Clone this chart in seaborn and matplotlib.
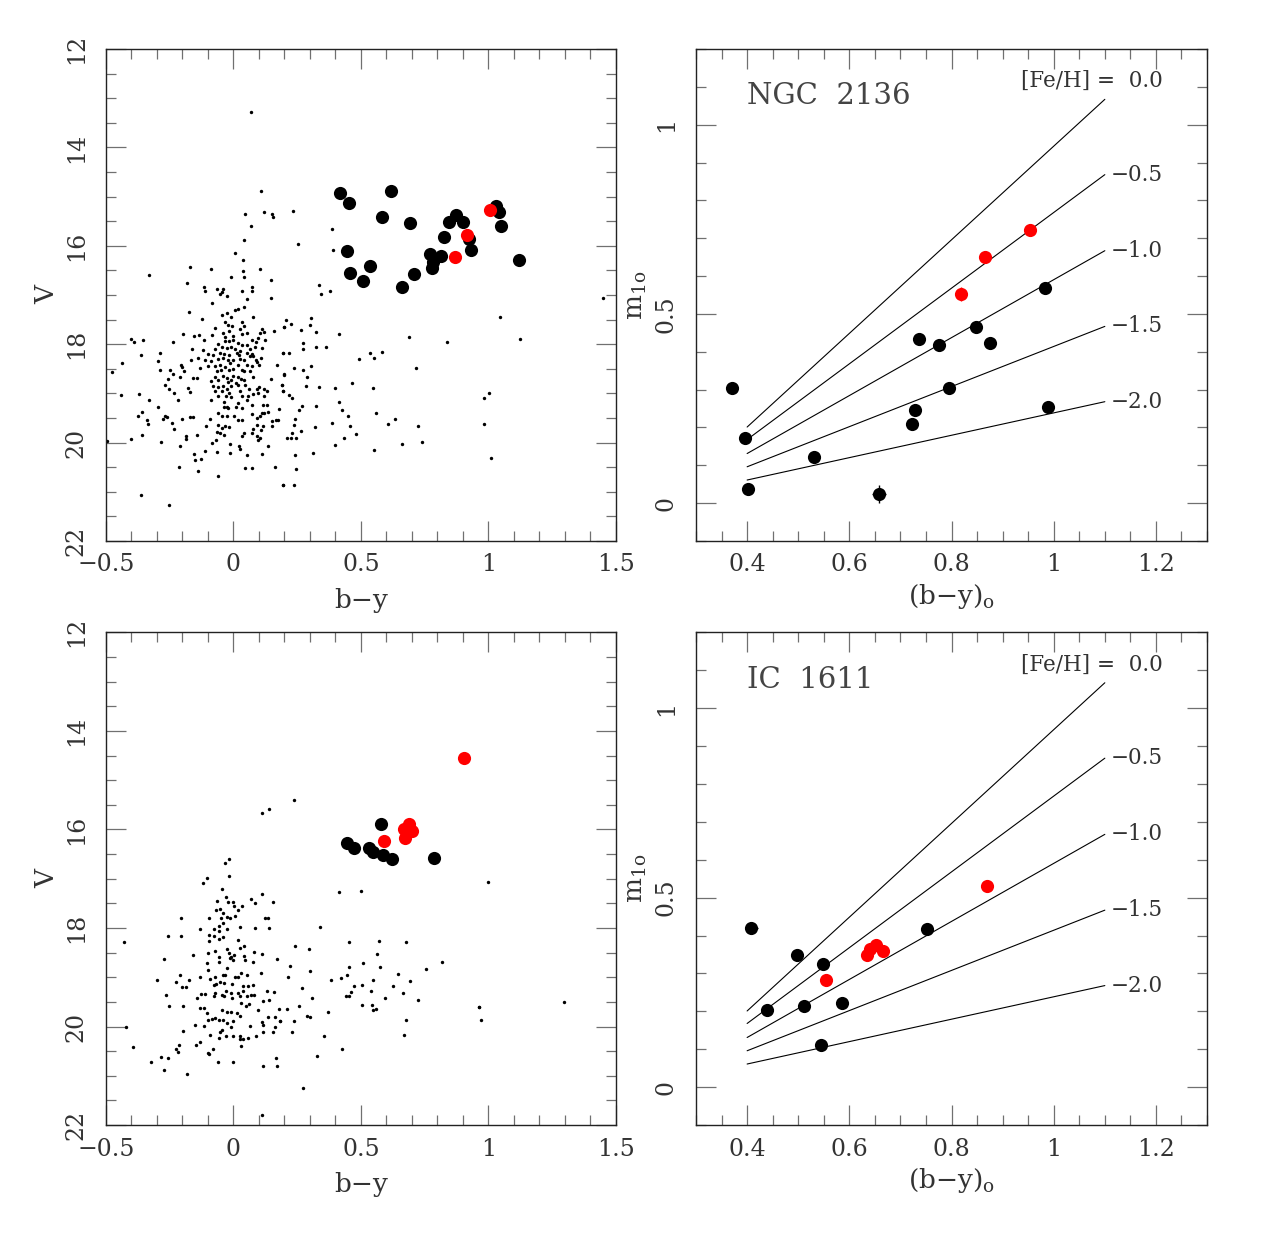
import numpy as np
import pandas as pd
import matplotlib
matplotlib.use("Agg")
import matplotlib.pyplot as plt
from matplotlib.ticker import MultipleLocator, FuncFormatter
import seaborn as sns

# ---------------- NGC 2136 : CMD field stars (b-y, V) ----------------
ngc_field = [
    (-0.111, 16.91), (-0.052, 16.99), (-0.046, 16.93), (-0.026, 17.03), (0.035, 16.92), (0.072, 16.91),
    (0.052, 17.08), (0.148, 17.06), (-0.082, 17.16), (-0.173, 17.35), (0.042, 17.25), (-0.043, 17.40),
    (-0.025, 17.36), (-0.007, 17.44), (0.007, 17.31), (0.017, 17.29), (0.078, 17.44), (-0.123, 17.49),
    (-0.033, 17.54), (0.033, 17.55), (-0.022, 17.61), (-0.004, 17.63), (0.041, 17.63), (0.026, 17.69),
    (-0.072, 17.67), (0.111, 17.69), (0.161, 17.74), (0.200, 17.66), (-0.197, 17.79), (-0.153, 17.84),
    (-0.135, 17.81), (-0.115, 17.91), (-0.085, 17.81), (-0.039, 17.77), (-0.033, 17.86), (-0.017, 17.74),
    (0.000, 17.83), (0.033, 17.79), (0.052, 17.77), (0.072, 17.91), (0.098, 17.88), (0.105, 17.77),
    (0.122, 17.76), (0.124, 17.91), (-0.033, 17.94), (-0.017, 17.94), (0.000, 17.92), (0.017, 17.98),
    (0.033, 18.01), (0.052, 18.01), (0.089, 17.96), (-0.399, 17.90), (-0.388, 17.96), (-0.353, 17.91),
    (-0.238, 17.96), (-0.059, 17.99), (-0.161, 18.09), (-0.119, 18.11), (-0.072, 18.10), (-0.046, 18.05),
    (-0.026, 18.08), (-0.009, 18.06), (0.007, 18.10), (0.026, 18.13), (0.065, 18.10), (0.085, 18.06),
    (0.111, 18.08), (-0.098, 18.19), (-0.078, 18.21), (-0.052, 18.17), (-0.035, 18.19), (-0.017, 18.21),
    (0.013, 18.18), (0.022, 18.22), (0.052, 18.17), (0.072, 18.19), (-0.288, 18.17), (-0.363, 18.22),
    (0.196, 18.17), (-0.167, 18.32), (-0.140, 18.28), (-0.111, 18.32), (-0.088, 18.35), (-0.059, 18.30),
    (-0.039, 18.28), (-0.020, 18.33), (0.000, 18.32), (0.026, 18.30), (0.043, 18.33), (0.065, 18.25),
    (0.078, 18.24), (0.088, 18.32), (0.108, 18.28), (-0.438, 18.38), (-0.294, 18.34), (-0.203, 18.42),
    (-0.200, 18.47), (-0.131, 18.49), (-0.098, 18.45), (-0.072, 18.44), (-0.052, 18.42), (-0.033, 18.47),
    (-0.013, 18.38), (0.017, 18.42), (0.033, 18.52), (0.054, 18.42), (0.072, 18.45), (0.092, 18.37),
    (0.101, 18.42), (0.171, 18.42), (-0.288, 18.53), (-0.477, 18.57), (-0.246, 18.53), (-0.237, 18.61),
    (-0.193, 18.55), (-0.065, 18.55), (-0.048, 18.52), (-0.017, 18.52), (0.000, 18.51), (0.041, 18.55),
    (0.067, 18.55), (-0.072, 18.66), (-0.039, 18.64), (-0.026, 18.69), (-0.007, 18.72), (0.000, 18.64),
    (0.020, 18.66), (0.030, 18.71), (-0.255, 18.70), (-0.207, 18.67), (-0.157, 18.69), (-0.144, 18.69),
    (-0.088, 18.74), (-0.059, 18.72), (-0.020, 18.76), (0.009, 18.79), (0.041, 18.72), (0.076, 18.66),
    (0.148, 18.71), (0.199, 18.62), (-0.268, 18.84), (-0.252, 18.91), (-0.231, 18.99), (-0.176, 18.89),
    (-0.170, 18.98), (-0.078, 18.86), (-0.059, 18.87), (-0.039, 18.86), (-0.026, 18.91), (-0.009, 18.86),
    (0.017, 18.84), (0.046, 18.82), (0.063, 18.91), (0.092, 18.91), (0.101, 18.87), (0.122, 18.91),
    (0.192, 18.82), (0.196, 18.96), (-0.072, 18.96), (-0.046, 18.96), (-0.017, 18.99), (0.026, 18.96),
    (0.131, 18.96), (-0.440, 19.03), (-0.369, 19.01), (-0.329, 19.13), (-0.216, 19.13), (-0.088, 19.14),
    (-0.059, 19.06), (-0.030, 19.05), (-0.009, 19.08), (0.035, 19.05), (0.059, 19.05), (0.078, 19.01),
    (0.098, 18.99), (0.119, 19.05), (-0.035, 19.18), (0.020, 19.20), (0.054, 19.13), (0.072, 19.23),
    (0.118, 19.23), (0.131, 19.23), (-0.294, 19.28), (-0.037, 19.28), (-0.020, 19.30), (-0.026, 19.28),
    (0.010, 19.28), (0.033, 19.30), (0.179, 19.32), (-0.359, 19.38), (-0.373, 19.47), (-0.340, 19.54),
    (-0.333, 19.62), (-0.268, 19.47), (-0.259, 19.48), (-0.275, 19.52), (-0.242, 19.60), (-0.199, 19.52),
    (-0.170, 19.48), (-0.157, 19.48), (-0.092, 19.52), (-0.059, 19.40), (-0.046, 19.47), (-0.026, 19.47),
    (0.003, 19.47), (0.020, 19.54), (0.033, 19.54), (0.072, 19.41), (0.092, 19.50), (0.105, 19.46),
    (0.111, 19.40), (0.122, 19.39), (0.135, 19.37), (0.153, 19.57), (0.166, 19.55), (0.174, 19.54),
    (-0.105, 19.66), (-0.231, 19.73), (-0.059, 19.64), (-0.046, 19.71), (-0.033, 19.67), (-0.016, 19.69),
    (0.076, 19.73), (0.095, 19.64), (0.118, 19.67), (0.150, 19.67), (-0.065, 19.79), (-0.052, 19.81),
    (-0.035, 19.84), (0.035, 19.86), (0.041, 19.81), (0.075, 19.81), (0.092, 19.87), (0.108, 19.74),
    (-0.186, 19.87), (-0.187, 19.92), (-0.144, 19.85), (-0.399, 19.93), (-0.359, 19.85), (-0.284, 19.98),
    (-0.208, 20.08), (-0.085, 20.01), (-0.069, 19.94), (-0.013, 20.02), (0.022, 20.06), (0.026, 20.13),
    (0.098, 19.94), (0.106, 19.91), (0.135, 20.08), (-0.111, 20.17), (-0.065, 20.20), (-0.153, 20.23),
    (-0.150, 20.35), (-0.127, 20.33), (-0.013, 20.21), (0.052, 20.25), (0.114, 20.23), (-0.213, 20.49),
    (0.046, 20.51), (0.072, 20.51), (0.163, 20.50), (-0.137, 20.57), (-0.059, 20.67), (0.196, 20.87),
    (-0.363, 21.07), (-0.251, 21.27),
    (0.342, 16.99), (0.380, 16.91), (0.207, 17.50), (0.200, 17.66), (0.225, 17.59), (0.306, 17.46),
    (0.299, 17.61), (0.267, 17.71), (0.324, 17.76), (0.416, 17.79), (0.688, 17.86), (0.839, 17.96),
    (0.275, 17.98), (0.275, 18.10), (0.324, 18.05), (0.362, 18.05), (0.196, 18.17), (0.220, 18.17),
    (0.537, 18.17), (0.584, 18.16), (0.493, 18.30), (0.551, 18.28), (0.718, 18.49), (0.239, 18.49),
    (0.273, 18.53), (0.306, 18.44), (0.199, 18.61), (0.289, 18.67), (0.192, 18.82), (0.196, 18.96),
    (0.284, 18.86), (0.336, 18.88), (0.397, 18.90), (0.467, 18.78), (0.546, 18.89), (0.220, 19.04),
    (0.230, 19.10), (0.416, 19.17), (0.269, 19.26), (0.256, 19.34), (0.325, 19.25), (0.426, 19.34),
    (0.451, 19.45), (0.558, 19.40), (0.633, 19.52), (0.608, 19.62), (0.243, 19.52), (0.239, 19.64),
    (0.386, 19.61), (0.320, 19.68), (0.459, 19.66), (0.725, 19.67), (0.264, 19.77), (0.229, 19.81),
    (0.212, 19.91), (0.227, 19.90), (0.244, 19.91), (0.482, 19.82), (0.435, 19.90), (0.400, 20.05),
    (0.663, 20.02), (0.741, 19.99), (0.550, 20.15), (0.314, 20.22), (0.241, 20.25), (0.247, 20.54),
    (0.195, 20.87), (0.237, 20.87),
    (0.069, 13.29), (0.108, 14.89), (0.047, 15.36), (0.121, 15.32), (0.151, 15.36), (0.155, 15.42),
    (0.235, 15.30), (0.069, 15.59), (0.042, 15.88), (0.255, 15.96), (0.008, 16.15), (0.388, 15.66),
    (0.392, 16.09), (0.040, 16.28), (-0.168, 16.44), (-0.086, 16.48), (0.103, 16.48), (0.039, 16.52),
    (-0.329, 16.60), (-0.008, 16.63), (0.042, 16.63), (0.146, 16.70), (-0.181, 16.76), (-0.114, 16.84),
    (-0.063, 16.87), (-0.042, 16.88), (0.337, 16.80), (0.073, 16.84),
    (1.448, 17.07), (1.046, 17.45), (1.125, 17.90), (1.001, 18.99), (0.983, 19.09), (0.983, 19.62),
    (1.009, 20.31), (-0.495, 19.97),
]

# NGC 2136 : supergiants in the CMD (b-y, V)
ngc_black_by = [0.420, 0.452, 0.617, 0.582, 0.692, 0.847, 0.875, 0.901, 1.031, 1.040, 1.048, 0.825, 0.924,
                0.931, 0.445, 0.773, 0.816, 0.783, 0.778, 0.537, 0.456, 0.709, 0.509, 0.663, 1.120]
ngc_black_v = [14.93, 15.14, 14.89, 15.42, 15.53, 15.52, 15.38, 15.51, 15.19, 15.31, 15.59, 15.83, 15.87,
               16.09, 16.10, 16.17, 16.21, 16.32, 16.46, 16.41, 16.55, 16.57, 16.71, 16.84, 16.29]
ngc_red_by = [1.005, 0.915, 0.868]
ngc_red_v = [15.27, 15.79, 16.23]

# NGC 2136 : m1 versus (b-y)o
ngc_m1_black_by = [0.370, 0.395, 0.401, 0.530, 0.658, 0.722, 0.728, 0.737, 0.776, 0.796, 0.848, 0.876, 0.983, 0.989]
ngc_m1_black_m1 = [0.305, 0.171, 0.037, 0.123, 0.024, 0.209, 0.247, 0.434, 0.419, 0.305, 0.465, 0.423, 0.569, 0.254]
ngc_m1_black_xerr = [0.004, 0.004, 0.004, 0.004, 0.013, 0.004, 0.004, 0.004, 0.004, 0.004, 0.004, 0.004, 0.004, 0.004]
ngc_m1_black_yerr = [0.008, 0.008, 0.008, 0.008, 0.025, 0.008, 0.008, 0.008, 0.008, 0.008, 0.008, 0.008, 0.008, 0.008]
ngc_m1_red_by = [0.818, 0.865, 0.954]
ngc_m1_red_m1 = [0.553, 0.651, 0.722]
ngc_m1_red_xerr = [0.004, 0.004, 0.004]
ngc_m1_red_yerr = [0.019, 0.008, 0.008]

# ---------------- IC 1611 : CMD field stars (b-y, V) ----------------
ic_field = [
    (-0.017, 16.60), (-0.033, 16.69), (-0.017, 16.94), (-0.101, 16.99), (-0.119, 17.08), (-0.044, 17.21),
    (-0.030, 17.38), (-0.064, 17.45), (-0.020, 17.48), (0.000, 17.48), (0.001, 17.56), (0.033, 17.55),
    (0.020, 17.63), (-0.069, 17.63), (-0.052, 17.62), (-0.039, 17.70), (-0.026, 17.77), (-0.013, 17.79),
    (0.007, 17.75), (0.069, 17.41), (0.086, 17.50), (0.111, 17.32), (0.157, 17.48), (-0.203, 17.79),
    (-0.097, 17.79), (-0.047, 17.79), (0.124, 17.79), (0.137, 17.79), (-0.039, 17.89), (-0.077, 18.02),
    (-0.054, 17.97), (-0.054, 18.06), (-0.025, 18.02), (0.026, 17.99), (0.085, 18.01), (0.141, 18.01),
    (-0.132, 18.03), (-0.255, 18.17), (-0.205, 18.16), (-0.097, 18.14), (-0.076, 18.16), (-0.054, 18.22),
    (-0.042, 18.19), (-0.095, 18.26), (0.020, 18.24), (0.043, 18.36), (0.027, 18.41), (-0.159, 18.55),
    (-0.098, 18.51), (-0.072, 18.46), (-0.055, 18.58), (-0.026, 18.43), (-0.017, 18.50), (-0.007, 18.58),
    (0.004, 18.55), (-0.013, 18.61), (0.000, 18.65), (0.043, 18.57), (0.046, 18.65), (0.080, 18.48),
    (0.111, 18.52), (-0.271, 18.63), (0.171, 18.63), (-0.103, 18.71), (-0.055, 18.70), (-0.026, 18.82),
    (0.078, 18.70), (-0.098, 18.85), (-0.072, 18.99), (-0.039, 18.95), (-0.033, 18.95), (0.020, 18.99),
    (0.029, 18.92), (0.055, 18.95), (0.108, 18.92), (-0.298, 19.06), (-0.208, 18.96), (-0.226, 19.09),
    (-0.200, 19.19), (-0.184, 19.20), (-0.174, 19.05), (-0.129, 19.00), (-0.090, 19.04), (-0.075, 19.16),
    (-0.067, 19.13), (-0.052, 19.09), (-0.035, 19.12), (-0.003, 19.13), (0.007, 18.99), (0.037, 19.17),
    (0.059, 19.17), (0.078, 19.15), (-0.265, 19.36), (-0.250, 19.59), (-0.197, 19.59), (-0.142, 19.43),
    (-0.127, 19.34), (-0.111, 19.34), (-0.131, 19.63), (-0.116, 19.63), (-0.101, 19.73), (-0.076, 19.39),
    (-0.072, 19.32), (-0.046, 19.36), (-0.035, 19.39), (-0.030, 19.27), (-0.007, 19.32), (-0.003, 19.42),
    (0.017, 19.32), (0.026, 19.38), (0.030, 19.53), (0.039, 19.27), (0.052, 19.38), (0.050, 19.58),
    (0.063, 19.55), (0.069, 19.37), (0.080, 19.36), (0.098, 19.66), (0.118, 19.49), (0.131, 19.27),
    (0.141, 19.46), (0.161, 19.30), (0.179, 19.65), (0.185, 19.88), (-0.046, 19.66), (-0.026, 19.71),
    (-0.009, 19.71), (0.013, 19.73), (0.026, 19.78), (-0.150, 19.97), (-0.116, 19.98), (-0.098, 19.86),
    (-0.082, 19.85), (-0.072, 19.83), (-0.056, 19.86), (-0.039, 19.86), (-0.026, 19.93), (-0.009, 20.02),
    (-0.001, 19.88), (0.067, 19.98), (0.111, 19.90), (0.118, 19.97), (0.137, 19.81), (0.162, 19.81),
    (0.163, 20.02), (-0.197, 20.10), (-0.052, 20.12), (-0.043, 20.08), (-0.090, 20.17), (-0.055, 20.23),
    (-0.027, 20.19), (0.000, 20.20), (0.026, 20.19), (0.026, 20.26), (0.039, 20.26), (0.059, 20.24),
    (0.088, 20.20), (0.118, 20.11), (0.154, 20.11), (-0.420, 20.01), (-0.429, 18.28), (-0.392, 20.41),
    (-0.323, 20.73), (-0.284, 20.61), (-0.273, 20.88), (-0.255, 20.64), (-0.225, 20.45), (-0.218, 20.51),
    (-0.212, 20.37), (-0.182, 20.96), (-0.148, 20.37), (-0.129, 20.32), (-0.098, 20.53), (-0.094, 20.55),
    (-0.081, 20.46), (-0.059, 20.73), (0.000, 20.73), (0.030, 20.39), (0.116, 20.80), (0.166, 20.64),
    (0.173, 20.80),
    (0.414, 17.27), (0.501, 17.25), (0.339, 17.99), (0.243, 18.37), (0.298, 18.43), (0.455, 18.29),
    (0.573, 18.26), (0.678, 18.28), (0.562, 18.53), (0.820, 18.69), (0.221, 18.78), (0.213, 18.99),
    (0.299, 18.88), (0.452, 18.80), (0.508, 18.71), (0.575, 18.80), (0.754, 18.83), (0.382, 19.05),
    (0.422, 19.01), (0.446, 18.96), (0.644, 18.94), (0.269, 19.21), (0.308, 19.42), (0.475, 19.17),
    (0.503, 19.15), (0.549, 19.05), (0.627, 19.18), (0.694, 19.07), (0.440, 19.38), (0.455, 19.38),
    (0.461, 19.29), (0.540, 19.27), (0.596, 19.42), (0.664, 19.31), (0.725, 19.46), (0.258, 19.59),
    (0.212, 19.65), (0.183, 19.88), (0.239, 19.88), (0.288, 19.78), (0.302, 19.81), (0.370, 19.71),
    (0.503, 19.57), (0.542, 19.57), (0.559, 19.64), (0.547, 19.67), (0.678, 19.87), (0.230, 20.11),
    (0.357, 20.19), (0.670, 20.18), (0.427, 20.46), (0.328, 20.60), (0.275, 21.24), (0.965, 19.61),
    (0.238, 15.41), (0.114, 15.66), (0.140, 15.59), (1.000, 17.06), (1.298, 19.50), (0.963, 19.61),
    (0.970, 19.86), (0.112, 21.79),
]

ic_black_by = [0.581, 0.444, 0.475, 0.533, 0.548, 0.586, 0.623, 0.787]
ic_black_v = [15.88, 16.27, 16.37, 16.37, 16.46, 16.51, 16.61, 16.59]
ic_red_by = [0.906, 0.591, 0.688, 0.668, 0.701, 0.674]
ic_red_v = [14.55, 16.23, 15.89, 15.99, 16.03, 16.17]

ic_m1_black_by = [0.408, 0.439, 0.498, 0.511, 0.548, 0.545, 0.586, 0.752]
ic_m1_black_m1 = [0.419, 0.203, 0.349, 0.215, 0.326, 0.111, 0.223, 0.416]
ic_m1_black_xerr = [0.013, 0.004, 0.004, 0.004, 0.004, 0.004, 0.004, 0.004]
ic_m1_black_yerr = [0.008, 0.008, 0.008, 0.008, 0.008, 0.008, 0.008, 0.008]
ic_m1_red_by = [0.555, 0.635, 0.641, 0.652, 0.665, 0.870]
ic_m1_red_m1 = [0.283, 0.348, 0.365, 0.375, 0.360, 0.531]

# ---------------- iso-metallicity lines ----------------
feh_levels = [0.0, -0.5, -1.0, -1.5, -2.0]
line_by = [0.4, 1.1]
line_m1_start = [0.201, 0.168, 0.131, 0.096, 0.061]
line_m1_end = [1.067, 0.868, 0.667, 0.467, 0.268]
feh_labels = ["[Fe/H] =  0.0", "\u22120.5", "\u22121.0", "\u22121.5", "\u22122.0"]

# ---------------- style ----------------
sns.set_theme(style="ticks")
plt.rcParams["font.family"] = ["DejaVu Serif", "DejaVu Sans"]
plt.rcParams["mathtext.fontset"] = "dejavuserif"
plt.rcParams["axes.unicode_minus"] = True

TEXT = "#333333"
RED = "#ff0000"
BIG = 90
SMALL = 6

fig = plt.figure(figsize=(12.75, 12.47), dpi=100)
ax_tl = fig.add_axes([0.0829, 0.5662, 0.4002, 0.3945])
ax_tr = fig.add_axes([0.5459, 0.5662, 0.4008, 0.3945])
ax_bl = fig.add_axes([0.0829, 0.0978, 0.4002, 0.3951])
ax_br = fig.add_axes([0.5459, 0.0978, 0.4008, 0.3951])

fmt = FuncFormatter(lambda v, _: f"{v:g}".replace("-", "\u2212"))


def style_axes(ax):
    ax.tick_params(which="both", direction="in", top=True, right=True,
                   color="#707070", labelcolor=TEXT, labelsize=17)
    ax.tick_params(which="major", length=14.4, width=0.9)
    ax.tick_params(which="minor", length=7.2, width=0.9)
    ax.tick_params(axis="x", which="both", pad=9)
    ax.tick_params(axis="y", which="both", pad=13, labelrotation=90)
    for lab in ax.get_yticklabels():
        lab.set_va("center")
    for s in ax.spines.values():
        s.set_color("#222222")
        s.set_linewidth(1.0)
    ax.xaxis.set_major_formatter(fmt)
    ax.yaxis.set_major_formatter(fmt)


def draw_cmd(ax, field, black_by, black_v, red_by, red_v):
    fx, fy = np.array(field).T
    sns.scatterplot(x=fx, y=fy, s=SMALL, color="black", linewidth=0, ax=ax, legend=False)
    sns.scatterplot(x=black_by, y=black_v, s=BIG, color="black", linewidth=0, ax=ax, legend=False)
    sns.scatterplot(x=red_by, y=red_v, s=BIG, color=RED, linewidth=0, ax=ax, legend=False)
    ax.set_xlim(-0.5, 1.5)
    ax.set_ylim(22, 12)
    ax.xaxis.set_major_locator(MultipleLocator(0.5))
    ax.xaxis.set_minor_locator(MultipleLocator(0.1))
    ax.yaxis.set_major_locator(MultipleLocator(2))
    ax.yaxis.set_minor_locator(MultipleLocator(0.5))
    ax.set_xlabel("b\u2212y", fontsize=19, color=TEXT, labelpad=8)
    ax.set_ylabel("V", fontsize=19, color=TEXT, labelpad=4)
    style_axes(ax)


def draw_m1(ax, name, bk_by, bk_m1, bk_xe, bk_ye, rd_by, rd_m1, rd_xe=None, rd_ye=None):
    lines = pd.DataFrame({
        "by": np.tile(line_by, len(feh_levels)),
        "m1": np.ravel(np.column_stack([line_m1_start, line_m1_end])),
        "feh": np.repeat(feh_levels, 2),
    })
    sns.lineplot(data=lines, x="by", y="m1", units="feh", estimator=None,
                 color="black", lw=0.8, ax=ax, legend=False)
    for i, lab in enumerate(feh_labels):
        y = line_m1_end[i] + (0.048 if i == 0 else 0.0)
        ax.text(1.213, y, lab, ha="right", va="center", fontsize=15.5, color=TEXT)
    ax.errorbar(bk_by, bk_m1, xerr=bk_xe, yerr=bk_ye, fmt="none", ecolor="black", elinewidth=1, zorder=2)
    if rd_ye is not None:
        ax.errorbar(rd_by, rd_m1, xerr=rd_xe, yerr=rd_ye, fmt="none", ecolor=RED, elinewidth=1, zorder=2)
    sns.scatterplot(x=bk_by, y=bk_m1, s=BIG, color="black", linewidth=0, ax=ax, legend=False, zorder=3)
    sns.scatterplot(x=rd_by, y=rd_m1, s=BIG, color=RED, linewidth=0, ax=ax, legend=False, zorder=3)
    ax.text(0.4, 1.075, name, ha="left", va="center", fontsize=21, color="#444444")
    ax.set_xlim(0.3, 1.3)
    ax.set_ylim(-0.1, 1.2)
    ax.set_xticks([0.4, 0.6, 0.8, 1.0, 1.2])
    ax.xaxis.set_minor_locator(MultipleLocator(0.05))
    ax.set_yticks([0, 0.5, 1.0])
    ax.yaxis.set_minor_locator(MultipleLocator(0.1))
    ax.set_xlabel(r"$(\mathrm{b{-}y})_\mathrm{o}$", fontsize=19, color=TEXT, labelpad=4)
    ax.set_ylabel(r"$\mathrm{m}_{1\mathrm{o}}$", fontsize=19, color=TEXT, labelpad=4)
    style_axes(ax)


draw_cmd(ax_tl, ngc_field, ngc_black_by, ngc_black_v, ngc_red_by, ngc_red_v)
draw_m1(ax_tr, "NGC  2136", ngc_m1_black_by, ngc_m1_black_m1, ngc_m1_black_xerr, ngc_m1_black_yerr,
        ngc_m1_red_by, ngc_m1_red_m1, ngc_m1_red_xerr, ngc_m1_red_yerr)
draw_cmd(ax_bl, ic_field, ic_black_by, ic_black_v, ic_red_by, ic_red_v)
draw_m1(ax_br, "IC  1611", ic_m1_black_by, ic_m1_black_m1, ic_m1_black_xerr, ic_m1_black_yerr,
        ic_m1_red_by, ic_m1_red_m1)

fig.savefig("out.png", dpi=100)
